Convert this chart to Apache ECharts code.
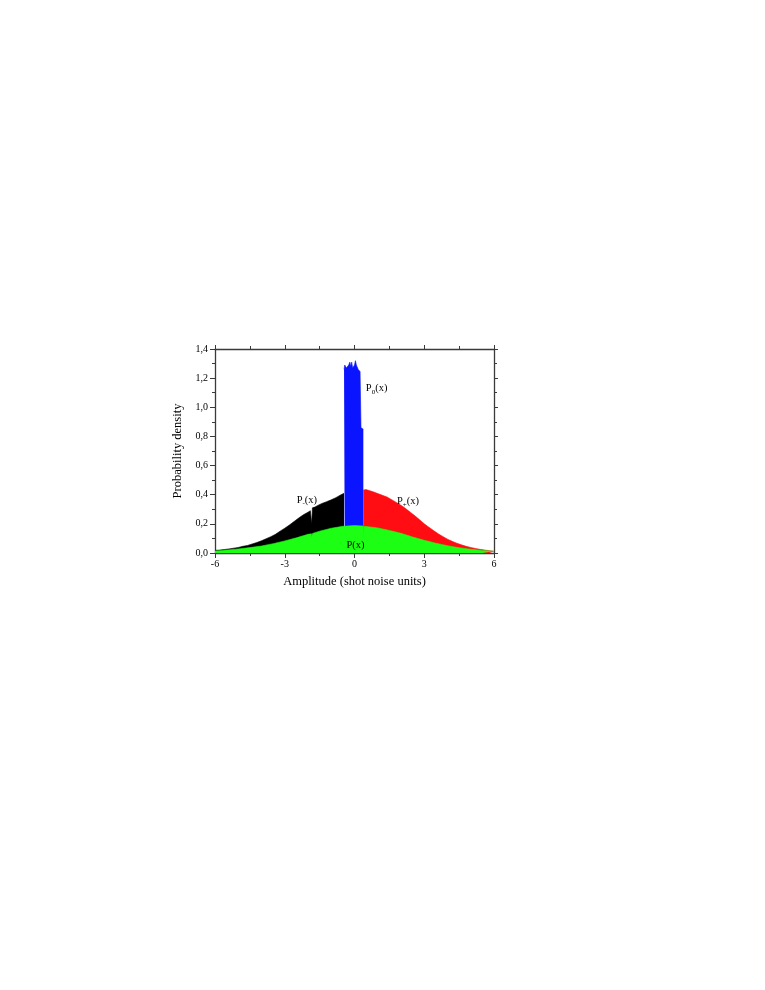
<!DOCTYPE html>
<html><head><meta charset="utf-8">
<script src="https://cdn.jsdelivr.net/npm/echarts@6/dist/echarts.min.js"></script>
<style>html,body{margin:0;padding:0;background:#fff}#c{width:765px;height:990px}</style>
</head><body><div id="c"></div>
<script>
// P-(x) : black histogram, left part
const xMinus = [-6.0,-5.8,-5.6,-5.4,-5.2,-5.0,-4.8,-4.6,-4.4,-4.2,-4.0,-3.8,-3.6,-3.4,-3.2,-3.0,-2.8,-2.6,-2.4,-2.2,-2.0,-1.9,-1.85,-1.84,-1.82,-1.81,-1.7,-1.6,-1.4,-1.2,-1.0,-0.8,-0.6,-0.45];
const yMinus = [0.018,0.02,0.024,0.028,0.033,0.038,0.046,0.052,0.062,0.072,0.084,0.098,0.112,0.128,0.15,0.17,0.192,0.216,0.24,0.262,0.28,0.29,0.293,0.2,0.2,0.31,0.315,0.325,0.34,0.352,0.365,0.38,0.398,0.41];
// P+(x) : red histogram, right part
const xPlus = [0.38,0.5,0.6,0.8,1.0,1.2,1.4,1.6,1.8,2.0,2.2,2.4,2.6,2.8,3.0,3.2,3.4,3.6,3.8,4.0,4.2,4.4,4.6,4.8,5.0,5.2,5.4,5.6,5.8,6.0];
const yPlus = [0.432,0.435,0.43,0.42,0.408,0.396,0.384,0.366,0.347,0.327,0.305,0.28,0.255,0.228,0.2,0.177,0.154,0.132,0.113,0.095,0.08,0.067,0.056,0.046,0.038,0.031,0.025,0.02,0.016,0.012];
// P0(x) : blue histogram, centre
const xZero = [-0.45,-0.42,-0.38,-0.35,-0.3,-0.25,-0.2,-0.16,-0.12,-0.08,-0.04,0.0,0.04,0.08,0.12,0.16,0.2,0.24,0.27,0.28,0.32,0.38];
const yZero = [1.26,1.29,1.30,1.27,1.28,1.29,1.31,1.28,1.31,1.27,1.28,1.29,1.32,1.29,1.28,1.26,1.25,1.245,1.24,0.86,0.85,0.85];
// P(x) : green histogram, full range
const xAll = [-6.0,-5.5,-5.0,-4.5,-4.0,-3.5,-3.0,-2.5,-2.0,-1.85,-1.84,-1.82,-1.81,-1.5,-1.0,-0.5,0.0,0.37,0.38,0.39,0.4,0.5,1.0,1.5,2.0,2.5,3.0,3.5,4.0,4.5,5.0,5.5,6.0];
const yAll = [0.014,0.02,0.028,0.037,0.048,0.064,0.083,0.104,0.128,0.132,0.11,0.11,0.134,0.15,0.17,0.183,0.188,0.185,0.11,0.11,0.182,0.182,0.172,0.155,0.135,0.11,0.087,0.067,0.05,0.036,0.026,0.018,0.012];

const xTicks = [-6,-3,0,3,6];
const yTicks = [0,0.2,0.4,0.6,0.8,1.0,1.2,1.4];
const labels = [
  {sub:'-', x:-2.05, y:0.365},
  {sub:'+', x:2.3, y:0.352},
  {sub:'0', x:0.95, y:1.13},
  {sub:'', x:0.04, y:0.055}
];

const pairs = (xs, ys) => xs.map((x,i)=>[x, ys[i]]);
const FONT = '"Liberation Serif", "DejaVu Serif", serif';
const axisCol = '#3a3a3a';

function areaSeries(name, data, color){
  return {name, type:'line', data, symbol:'none',
    lineStyle:{color, width:0.6}, areaStyle:{color, opacity:1}, itemStyle:{color},
    animation:false, silent:true};
}

const chart = echarts.init(document.getElementById('c'));
const gridL = 215, gridR = 765-494, gridT = 349, gridB = 990-553;
chart.setOption({
  backgroundColor:'#fff',
  animation:false,
  grid:{left:gridL, right:gridR, top:gridT, bottom:gridB},
  xAxis:[{
    type:'value', min:-6, max:6, interval:3,
    name:'Amplitude (shot noise units)', nameLocation:'middle', nameGap:22,
    nameTextStyle:{fontFamily:FONT, fontSize:12.5, color:'#000'},
    axisLine:{show:true, onZero:false, lineStyle:{color:axisCol, width:1.3}},
    axisTick:{show:true, inside:false, length:5, lineStyle:{color:axisCol}},
    minorTick:{show:true, splitNumber:2, length:3, lineStyle:{color:axisCol}},
    axisLabel:{fontFamily:FONT, fontSize:10, color:'#000', margin:6,
      formatter:v=> xTicks.includes(v) ? String(v) : ''},
    splitLine:{show:false}
  },{
    type:'value', min:-6, max:6, interval:3, position:'top',
    axisLine:{show:true, onZero:false, lineStyle:{color:axisCol, width:1.3}},
    axisTick:{show:true, inside:false, length:4, lineStyle:{color:axisCol}},
    minorTick:{show:true, splitNumber:2, length:3, lineStyle:{color:axisCol}},
    axisLabel:{show:false}, splitLine:{show:false}
  }],
  yAxis:[{
    type:'value', min:0, max:1.4, interval:0.2,
    name:'Probability density', nameLocation:'middle', nameGap:31,
    nameTextStyle:{fontFamily:FONT, fontSize:12.5, color:'#000'},
    axisLine:{show:true, onZero:false, lineStyle:{color:axisCol, width:1.3}},
    axisTick:{show:true, inside:false, length:5, lineStyle:{color:axisCol}},
    minorTick:{show:true, splitNumber:2, length:3, lineStyle:{color:axisCol}},
    axisLabel:{fontFamily:FONT, fontSize:10, color:'#000', margin:7,
      formatter:v=> v.toFixed(1).replace('.', ',')},
    splitLine:{show:false}
  },{
    type:'value', min:0, max:1.4, interval:0.2, position:'right',
    axisLine:{show:true, onZero:false, lineStyle:{color:axisCol, width:1.3}},
    axisTick:{show:true, inside:false, length:4, lineStyle:{color:axisCol}},
    minorTick:{show:true, splitNumber:2, length:3, lineStyle:{color:axisCol}},
    axisLabel:{show:false}, splitLine:{show:false}
  }],
  series:[
    areaSeries('P-(x)', pairs(xMinus,yMinus), '#000000'),
    areaSeries('P+(x)', pairs(xPlus,yPlus), '#ff0d12'),
    areaSeries('P0(x)', pairs(xZero,yZero), '#0a14ff'),
    areaSeries('P(x)', pairs(xAll,yAll), '#1cff14')
  ]
});

const g = labels.map(l=>{
  const p = chart.convertToPixel({xAxisIndex:0, yAxisIndex:0}, [l.x, l.y]);
  const txt = l.sub ? '{p|P}{s|'+l.sub+'}{p|(x)}' : '{p|P(x)}';
  return {type:'text', x:p[0], y:p[1], z:100,
    style:{text:txt, align:'center', verticalAlign:'middle',
      rich:{p:{fontFamily:FONT, fontSize:10.5, fill:'#000'},
            s:{fontFamily:FONT, fontSize:7, fill:'#000', padding:[7,0,0,0]}}}};
});
chart.setOption({graphic:g});
</script></body></html>
